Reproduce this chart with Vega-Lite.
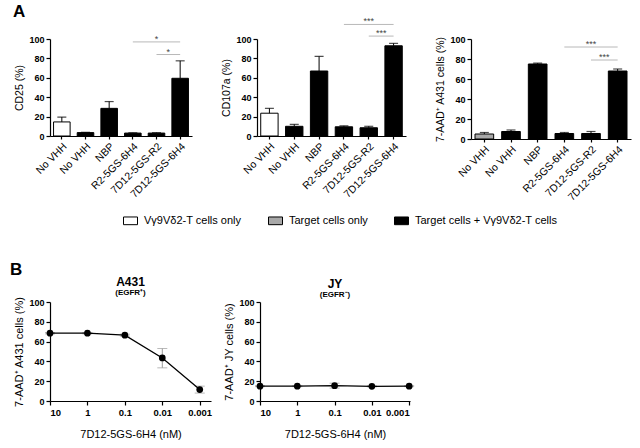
{
  "$schema": "https://vega.github.io/schema/vega-lite/v6.json",
  "background": "white",
  "padding": {"left": 9, "top": 3, "right": 6, "bottom": 2},
  "config": {
    "font": "Liberation Sans",
    "view": {"stroke": null},
    "axis": {"domainColor": "black", "tickColor": "black", "labelColor": "black", "titleColor": "black", "grid": false, "labelFont": "Liberation Sans", "titleFont": "Liberation Sans", "titleFontWeight": "normal", "tickSize": 4, "domainWidth": 1.2, "tickWidth": 1.2, "labelPadding": 2, "titlePadding": 4, "labelOverlap": false},
    "title": {"font": "Liberation Sans", "color": "black", "subtitleColor": "black", "subtitleFont": "Liberation Sans"}
  },
  "datasets": {
    "bars": [
      {"panel": "CD25", "id": "1", "group": "Vγ9Vδ2-T cells only", "value": 14.5, "err": 19.5},
      {"panel": "CD25", "id": "2", "group": "Target cells + Vγ9Vδ2-T cells", "value": 3.5, "err": 3.8},
      {"panel": "CD25", "id": "3", "group": "Target cells + Vγ9Vδ2-T cells", "value": 28.5, "err": 35.5},
      {"panel": "CD25", "id": "4", "group": "Target cells + Vγ9Vδ2-T cells", "value": 3, "err": 3.3},
      {"panel": "CD25", "id": "5", "group": "Target cells + Vγ9Vδ2-T cells", "value": 3, "err": 3.4},
      {"panel": "CD25", "id": "6", "group": "Target cells + Vγ9Vδ2-T cells", "value": 59.5, "err": 77.5},
      {"panel": "CD107a", "id": "1", "group": "Vγ9Vδ2-T cells only", "value": 23.5, "err": 28.5},
      {"panel": "CD107a", "id": "2", "group": "Target cells + Vγ9Vδ2-T cells", "value": 10, "err": 12},
      {"panel": "CD107a", "id": "3", "group": "Target cells + Vγ9Vδ2-T cells", "value": 67, "err": 82},
      {"panel": "CD107a", "id": "4", "group": "Target cells + Vγ9Vδ2-T cells", "value": 9.5, "err": 10.5},
      {"panel": "CD107a", "id": "5", "group": "Target cells + Vγ9Vδ2-T cells", "value": 8.5, "err": 10},
      {"panel": "CD107a", "id": "6", "group": "Target cells + Vγ9Vδ2-T cells", "value": 93, "err": 95.5},
      {"panel": "AAD", "id": "1", "group": "Target cells only", "value": 5, "err": 6.5},
      {"panel": "AAD", "id": "2", "group": "Target cells + Vγ9Vδ2-T cells", "value": 7.5, "err": 9},
      {"panel": "AAD", "id": "3", "group": "Target cells + Vγ9Vδ2-T cells", "value": 75, "err": 75.8},
      {"panel": "AAD", "id": "4", "group": "Target cells + Vγ9Vδ2-T cells", "value": 5.5, "err": 6.5},
      {"panel": "AAD", "id": "5", "group": "Target cells + Vγ9Vδ2-T cells", "value": 5.5, "err": 7.5},
      {"panel": "AAD", "id": "6", "group": "Target cells + Vγ9Vδ2-T cells", "value": 68, "err": 70}
    ],
    "sig": [
      {"panel": "CD25", "level": "upper", "from": "4", "to": "6", "mid": "5", "y": 97, "label": "*"},
      {"panel": "CD25", "level": "lower", "from": "5", "to": "6", "mid": "5", "y": 84, "label": "*"},
      {"panel": "CD107a", "level": "upper", "from": "4", "to": "6", "mid": "5", "y": 115, "label": "***"},
      {"panel": "CD107a", "level": "lower", "from": "5", "to": "6", "mid": "5", "y": 103, "label": "***"},
      {"panel": "AAD", "level": "upper", "from": "4", "to": "6", "mid": "5", "y": 92, "label": "***"},
      {"panel": "AAD", "level": "lower", "from": "5", "to": "6", "mid": "5", "y": 79, "label": "***"}
    ],
    "dose": [
      {"cell": "A431", "conc": 10, "value": 68.5, "lo": 67.8, "hi": 69.2},
      {"cell": "A431", "conc": 1, "value": 68.5, "lo": 67.8, "hi": 69.2},
      {"cell": "A431", "conc": 0.1, "value": 66.5, "lo": 65.5, "hi": 67.5},
      {"cell": "A431", "conc": 0.01, "value": 43.5, "lo": 33.5, "hi": 53},
      {"cell": "A431", "conc": 0.001, "value": 11.5, "lo": 8, "hi": 15},
      {"cell": "JY", "conc": 10, "value": 15, "lo": 14.5, "hi": 15.5},
      {"cell": "JY", "conc": 1, "value": 15, "lo": 14.5, "hi": 15.5},
      {"cell": "JY", "conc": 0.1, "value": 15.5, "lo": 13, "hi": 18},
      {"cell": "JY", "conc": 0.01, "value": 14.8, "lo": 14.3, "hi": 15.3},
      {"cell": "JY", "conc": 0.001, "value": 15, "lo": 14.5, "hi": 15.5}
    ]
  },
  "resolve": {"scale": {"color": "independent"}, "legend": {"color": "independent"}},
  "spacing": 34,
  "vconcat": [
    {
      "title": {"text": "A", "anchor": "start", "fontSize": 17, "fontWeight": "bold", "dx": -2, "offset": -4},
      "spacing": 29,
      "hconcat": [
        {
          "width": 142, "height": 97,
          "layer": [
            {
              "data": {"name": "bars"}, "transform": [{"filter": "datum.panel === 'CD25'"}],
              "mark": {"type": "bar", "stroke": "black", "strokeWidth": 1},
              "encoding": {
                "x": {"field": "id", "type": "nominal", "scale": {"paddingInner": 0.3, "paddingOuter": 0.15}, "axis": {"title": null, "labelAngle": -45, "labelFontSize": 10.5, "tickSize": 3, "labelExpr": "['No VHH','No VHH','NBP','R2-5GS-6H4','7D12-5GS-R2','7D12-5GS-6H4'][toNumber(datum.value)-1]"}},
                "y": {"field": "value", "type": "quantitative", "scale": {"domain": [0, 100]}, "axis": {"title": "CD25 (%)", "values": [0, 20, 40, 60, 80, 100], "tickCount": 6, "labelFontWeight": "bold", "labelFontSize": 9, "titleFontSize": 10.5}},
                "color": {"field": "group", "type": "nominal", "scale": {"domain": ["Vγ9Vδ2-T cells only", "Target cells only", "Target cells + Vγ9Vδ2-T cells"], "range": ["white", "#a8a8a8", "black"]}, "legend": {"title": null, "orient": "none", "legendX": 73, "legendY": 174, "direction": "horizontal", "symbolType": "M-1,-0.55L1,-0.55L1,0.55L-1,0.55Z", "symbolSize": 196, "symbolStrokeColor": "black", "symbolStrokeWidth": 1, "symbolOpacity": 1, "labelFontSize": 11, "labelColor": "black", "columnPadding": 24, "labelOffset": 6}}
              }
            },
            {
              "data": {"name": "bars"}, "transform": [{"filter": "datum.panel === 'CD25'"}],
              "mark": {"type": "rule", "color": "black", "strokeWidth": 1},
              "encoding": {"x": {"field": "id", "type": "nominal"}, "y": {"field": "value", "type": "quantitative"}, "y2": {"field": "err"}}
            },
            {
              "data": {"name": "bars"}, "transform": [{"filter": "datum.panel === 'CD25'"}],
              "mark": {"type": "tick", "color": "black", "size": 9, "thickness": 1.2},
              "encoding": {"x": {"field": "id", "type": "nominal"}, "y": {"field": "err", "type": "quantitative"}}
            },
            {
              "data": {"name": "sig"}, "transform": [{"filter": "datum.panel === 'CD25'"}],
              "mark": {"type": "rule", "color": "#b8b8b8", "strokeWidth": 1},
              "encoding": {"x": {"field": "from", "type": "nominal"}, "x2": {"field": "to"}, "y": {"field": "y", "type": "quantitative"}}
            },
            {
              "data": {"name": "sig"}, "transform": [{"filter": "datum.panel === 'CD25' && datum.level === 'upper'"}],
              "mark": {"type": "text", "fontSize": 9, "color": "#444", "baseline": "alphabetic"},
              "encoding": {"x": {"field": "mid", "type": "nominal"}, "y": {"field": "y", "type": "quantitative"}, "text": {"field": "label"}}
            },
            {
              "data": {"name": "sig"}, "transform": [{"filter": "datum.panel === 'CD25' && datum.level === 'lower'"}],
              "mark": {"type": "text", "fontSize": 9, "color": "#444", "baseline": "alphabetic"},
              "encoding": {"x": {"field": "mid", "type": "nominal", "bandPosition": 1.214}, "y": {"field": "y", "type": "quantitative"}, "text": {"field": "label"}}
            }
          ]
        },
        {
          "width": 149, "height": 97,
          "layer": [
            {
              "data": {"name": "bars"}, "transform": [{"filter": "datum.panel === 'CD107a'"}],
              "mark": {"type": "bar", "stroke": "black", "strokeWidth": 1},
              "encoding": {
                "x": {"field": "id", "type": "nominal", "scale": {"paddingInner": 0.3, "paddingOuter": 0.15}, "axis": {"title": null, "labelAngle": -45, "labelFontSize": 10.5, "tickSize": 3, "labelExpr": "['No VHH','No VHH','NBP','R2-5GS-6H4','7D12-5GS-R2','7D12-5GS-6H4'][toNumber(datum.value)-1]"}},
                "y": {"field": "value", "type": "quantitative", "scale": {"domain": [0, 100]}, "axis": {"title": "CD107a (%)", "values": [0, 20, 40, 60, 80, 100], "tickCount": 6, "labelFontWeight": "bold", "labelFontSize": 9, "titleFontSize": 10.5}},
                "color": {"field": "group", "type": "nominal", "scale": {"domain": ["Vγ9Vδ2-T cells only", "Target cells only", "Target cells + Vγ9Vδ2-T cells"], "range": ["white", "#a8a8a8", "black"]}, "legend": {"title": null, "orient": "none", "legendX": 73, "legendY": 174, "direction": "horizontal", "symbolType": "M-1,-0.55L1,-0.55L1,0.55L-1,0.55Z", "symbolSize": 196, "symbolStrokeColor": "black", "symbolStrokeWidth": 1, "symbolOpacity": 1, "labelFontSize": 11, "labelColor": "black", "columnPadding": 24, "labelOffset": 6}}
              }
            },
            {
              "data": {"name": "bars"}, "transform": [{"filter": "datum.panel === 'CD107a'"}],
              "mark": {"type": "rule", "color": "black", "strokeWidth": 1},
              "encoding": {"x": {"field": "id", "type": "nominal"}, "y": {"field": "value", "type": "quantitative"}, "y2": {"field": "err"}}
            },
            {
              "data": {"name": "bars"}, "transform": [{"filter": "datum.panel === 'CD107a'"}],
              "mark": {"type": "tick", "color": "black", "size": 9, "thickness": 1.2},
              "encoding": {"x": {"field": "id", "type": "nominal"}, "y": {"field": "err", "type": "quantitative"}}
            },
            {
              "data": {"name": "sig"}, "transform": [{"filter": "datum.panel === 'CD107a'"}],
              "mark": {"type": "rule", "color": "#b8b8b8", "strokeWidth": 1},
              "encoding": {"x": {"field": "from", "type": "nominal"}, "x2": {"field": "to"}, "y": {"field": "y", "type": "quantitative"}}
            },
            {
              "data": {"name": "sig"}, "transform": [{"filter": "datum.panel === 'CD107a' && datum.level === 'upper'"}],
              "mark": {"type": "text", "fontSize": 9, "color": "#444", "baseline": "alphabetic"},
              "encoding": {"x": {"field": "mid", "type": "nominal"}, "y": {"field": "y", "type": "quantitative"}, "text": {"field": "label"}}
            },
            {
              "data": {"name": "sig"}, "transform": [{"filter": "datum.panel === 'CD107a' && datum.level === 'lower'"}],
              "mark": {"type": "text", "fontSize": 9, "color": "#444", "baseline": "alphabetic"},
              "encoding": {"x": {"field": "mid", "type": "nominal", "bandPosition": 1.214}, "y": {"field": "y", "type": "quantitative"}, "text": {"field": "label"}}
            }
          ]
        },
        {
          "width": 160, "height": 100,
          "layer": [
            {
              "data": {"name": "bars"}, "transform": [{"filter": "datum.panel === 'AAD'"}],
              "mark": {"type": "bar", "stroke": "black", "strokeWidth": 1},
              "encoding": {
                "x": {"field": "id", "type": "nominal", "scale": {"paddingInner": 0.3, "paddingOuter": 0.15}, "axis": {"title": null, "labelAngle": -45, "labelFontSize": 10.5, "tickSize": 3, "labelExpr": "['No VHH','No VHH','NBP','R2-5GS-6H4','7D12-5GS-R2','7D12-5GS-6H4'][toNumber(datum.value)-1]"}},
                "y": {"field": "value", "type": "quantitative", "scale": {"domain": [0, 100]}, "axis": {"title": "7-AAD⁺ A431 cells (%)", "values": [0, 20, 40, 60, 80, 100], "tickCount": 6, "labelFontWeight": "bold", "labelFontSize": 9, "titleFontSize": 10.5}},
                "color": {"field": "group", "type": "nominal", "scale": {"domain": ["Vγ9Vδ2-T cells only", "Target cells only", "Target cells + Vγ9Vδ2-T cells"], "range": ["white", "#a8a8a8", "black"]}, "legend": {"title": null, "orient": "none", "legendX": 73, "legendY": 174, "direction": "horizontal", "symbolType": "M-1,-0.55L1,-0.55L1,0.55L-1,0.55Z", "symbolSize": 196, "symbolStrokeColor": "black", "symbolStrokeWidth": 1, "symbolOpacity": 1, "labelFontSize": 11, "labelColor": "black", "columnPadding": 24, "labelOffset": 6}}
              }
            },
            {
              "data": {"name": "bars"}, "transform": [{"filter": "datum.panel === 'AAD'"}],
              "mark": {"type": "rule", "color": "black", "strokeWidth": 1},
              "encoding": {"x": {"field": "id", "type": "nominal"}, "y": {"field": "value", "type": "quantitative"}, "y2": {"field": "err"}}
            },
            {
              "data": {"name": "bars"}, "transform": [{"filter": "datum.panel === 'AAD'"}],
              "mark": {"type": "tick", "color": "black", "size": 9, "thickness": 1.2},
              "encoding": {"x": {"field": "id", "type": "nominal"}, "y": {"field": "err", "type": "quantitative"}}
            },
            {
              "data": {"name": "sig"}, "transform": [{"filter": "datum.panel === 'AAD'"}],
              "mark": {"type": "rule", "color": "#b8b8b8", "strokeWidth": 1},
              "encoding": {"x": {"field": "from", "type": "nominal"}, "x2": {"field": "to"}, "y": {"field": "y", "type": "quantitative"}}
            },
            {
              "data": {"name": "sig"}, "transform": [{"filter": "datum.panel === 'AAD' && datum.level === 'upper'"}],
              "mark": {"type": "text", "fontSize": 9, "color": "#444", "baseline": "alphabetic"},
              "encoding": {"x": {"field": "mid", "type": "nominal"}, "y": {"field": "y", "type": "quantitative"}, "text": {"field": "label"}}
            },
            {
              "data": {"name": "sig"}, "transform": [{"filter": "datum.panel === 'AAD' && datum.level === 'lower'"}],
              "mark": {"type": "text", "fontSize": 9, "color": "#444", "baseline": "alphabetic"},
              "encoding": {"x": {"field": "mid", "type": "nominal", "bandPosition": 1.214}, "y": {"field": "y", "type": "quantitative"}, "text": {"field": "label"}}
            }
          ]
        }
      ]
    },
    {
      "title": {"text": "B", "anchor": "start", "fontSize": 17, "fontWeight": "bold", "dx": -4, "offset": -3},
      "spacing": 11,
      "hconcat": [
        {
          "width": 161, "height": 99,
          "title": {"text": "A431", "subtitle": "(EGFR⁺)", "fontSize": 12, "fontWeight": "bold", "subtitleFontSize": 8, "subtitleFontWeight": "bold", "subtitlePadding": 0, "offset": -2, "anchor": "middle"},
          "data": {"name": "dose"},
          "transform": [{"filter": "datum.cell === 'A431'"}],
          "encoding": {
            "x": {"field": "conc", "type": "quantitative", "scale": {"type": "log", "domain": [0.0005, 10], "reverse": true}, "axis": {"values": [10, 1, 0.1, 0.01, 0.001], "tickCount": 5, "format": "~g", "title": "7D12-5GS-6H4 (nM)", "labelFontWeight": "bold", "labelFontSize": 9.5, "titleFontSize": 11, "titlePadding": 12}}
          },
          "layer": [
            {"mark": {"type": "rule", "color": "#9a9a9a", "strokeWidth": 1}, "encoding": {"y": {"field": "lo", "type": "quantitative"}, "y2": {"field": "hi"}}},
            {"mark": {"type": "tick", "orient": "horizontal", "color": "#9a9a9a", "size": 10, "thickness": 1}, "encoding": {"y": {"field": "lo", "type": "quantitative"}}},
            {"mark": {"type": "tick", "orient": "horizontal", "color": "#9a9a9a", "size": 10, "thickness": 1}, "encoding": {"y": {"field": "hi", "type": "quantitative"}}},
            {"mark": {"type": "line", "color": "black", "strokeWidth": 1.3}, "encoding": {"y": {"field": "value", "type": "quantitative", "scale": {"domain": [0, 100]}, "axis": {"title": "7-AAD⁺ A431 cells (%)", "values": [0, 20, 40, 60, 80, 100], "tickCount": 6, "labelFontWeight": "bold", "labelFontSize": 9, "titleFontSize": 11}}}},
            {"mark": {"type": "point", "filled": true, "color": "black", "size": 45, "opacity": 1}, "encoding": {"y": {"field": "value", "type": "quantitative"}}}
          ]
        },
        {
          "width": 150, "height": 99,
          "title": {"text": "JY", "subtitle": "(EGFR⁻)", "fontSize": 12, "fontWeight": "bold", "subtitleFontSize": 8, "subtitleFontWeight": "bold", "subtitlePadding": 0, "offset": -2, "anchor": "middle"},
          "data": {"name": "dose"},
          "transform": [{"filter": "datum.cell === 'JY'"}],
          "encoding": {
            "x": {"field": "conc", "type": "quantitative", "scale": {"type": "log", "domain": [0.00095, 10], "reverse": true}, "axis": {"values": [10, 1, 0.1, 0.01, 0.001], "tickCount": 5, "format": "~g", "title": "7D12-5GS-6H4 (nM)", "labelFontWeight": "bold", "labelFontSize": 9.5, "titleFontSize": 11, "titlePadding": 12}}
          },
          "layer": [
            {"mark": {"type": "rule", "color": "#9a9a9a", "strokeWidth": 1}, "encoding": {"y": {"field": "lo", "type": "quantitative"}, "y2": {"field": "hi"}}},
            {"mark": {"type": "tick", "orient": "horizontal", "color": "#9a9a9a", "size": 10, "thickness": 1}, "encoding": {"y": {"field": "lo", "type": "quantitative"}}},
            {"mark": {"type": "tick", "orient": "horizontal", "color": "#9a9a9a", "size": 10, "thickness": 1}, "encoding": {"y": {"field": "hi", "type": "quantitative"}}},
            {"mark": {"type": "line", "color": "black", "strokeWidth": 1.3}, "encoding": {"y": {"field": "value", "type": "quantitative", "scale": {"domain": [0, 100]}, "axis": {"title": "7-AAD⁺ JY cells (%)", "values": [0, 20, 40, 60, 80, 100], "tickCount": 6, "labelFontWeight": "bold", "labelFontSize": 9, "titleFontSize": 11}}}},
            {"mark": {"type": "point", "filled": true, "color": "black", "size": 45, "opacity": 1}, "encoding": {"y": {"field": "value", "type": "quantitative"}}}
          ]
        }
      ]
    }
  ]
}
